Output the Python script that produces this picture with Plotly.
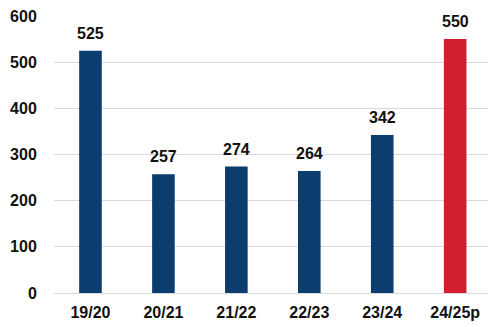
import plotly.graph_objects as go

categories = ["19/20", "20/21", "21/22", "22/23", "23/24", "24/25p"]
values = [525, 257, 274, 264, 342, 550]
colors = ["#0B3D6E"] * 5 + ["#D11F2F"]
y_ticks = [0, 100, 200, 300, 400, 500, 600]

FONT = "Liberation Sans, Arial"

fig = go.Figure()
fig.add_trace(go.Bar(
    x=categories, y=values, marker=dict(color=colors, line=dict(width=0)),
    width=0.31,
))
for c, v in zip(categories, values):
    fig.add_annotation(x=c, y=v, text=str(v), showarrow=False, yanchor="bottom",
                       yshift=7, font=dict(family=FONT, size=16, color="#111111", weight="bold"))
fig.update_layout(
    width=488, height=327, margin=dict(l=54, r=0, t=16, b=34),
    paper_bgcolor="white", plot_bgcolor="white", showlegend=False,
    font=dict(family=FONT, size=16, color="#111111"),
)
fig.update_xaxes(range=[-0.5, 5.45], showgrid=False, showline=False,
                 ticks="outside", ticklen=5, tickcolor="rgba(0,0,0,0)",
                 tickfont=dict(family=FONT, size=16, color="#111111", weight="bold"))
fig.update_yaxes(range=[0, 600], tickvals=y_ticks, showgrid=True, gridcolor="#D9D9D9", gridwidth=1,
                 zeroline=True, zerolinecolor="#D9D9D9", zerolinewidth=1,
                 ticks="outside", ticklen=13, tickcolor="rgba(0,0,0,0)",
                 tickfont=dict(family=FONT, size=16, color="#111111", weight="bold"))
fig.write_html("out.html")
